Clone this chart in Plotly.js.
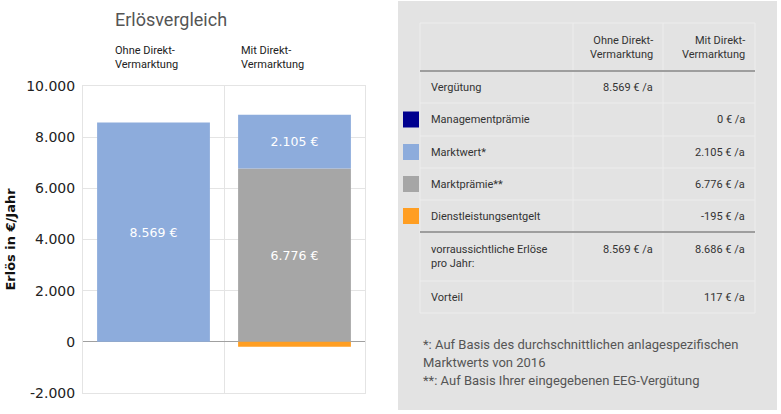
<!DOCTYPE html>
<html><head><meta charset="utf-8">
<script src="https://cdn.plot.ly/plotly-3.0.1.min.js"></script>
<style>html,body{margin:0;padding:0;background:#fff;}#chart{width:781px;height:414px;}</style>
</head><body><div id="chart"></div>
<script>
// ---- data ----
const categories = ["Ohne Direkt-Vermarktung", "Mit Direkt-Vermarktung"];
const categoryLabels = ["Ohne Direkt-<br>Vermarktung", "Mit Direkt-<br>Vermarktung"];
const seriesNames = ["Vergütung", "Managementprämie", "Marktprämie**", "Marktwert*", "Dienstleistungsentgelt"];
const verguetung = [8569, null];
const managementpraemie = [null, 0];
const marktpraemie = [null, 6776];
const marktwert = [null, 2105];
const dienstleistungsentgelt = [null, -195];
const yTicks = [-2000, 0, 2000, 4000, 6000, 8000, 10000];

const tableHeader = ["", "Ohne Direkt-<br>Vermarktung", "Mit Direkt-<br>Vermarktung"];
const tableRows = ["Vergütung", "Managementprämie", "Marktwert*", "Marktprämie**", "Dienstleistungsentgelt", "vorraussichtliche Erlöse<br>pro Jahr:", "Vorteil"];
const tableOhne = [8569, null, null, null, null, 8569, null];
const tableMit = [null, 0, 2105, 6776, -195, 8686, 117];
const footnotes = ["*: Auf Basis des durchschnittlichen anlagespezifischen", "Marktwerts von 2016", "**: Auf Basis Ihrer eingegebenen EEG-Vergütung"];

// ---- styles ----
const C_BLUE = "#8DACDC", C_NAVY = "#00008F", C_GREY = "#A6A6A6", C_ORANGE = "#FF9E22";
const rowSwatch = [null, C_NAVY, C_BLUE, C_GREY, C_ORANGE, null, null];
const W = 781, H = 414;
const px = x => x / W, py = y => 1 - y / H;
function fmt(v) {
  const s = Math.abs(v).toString().replace(/\B(?=(\d{3})+(?!\d))/g, ".");
  return (v < 0 ? "-" : "") + s;
}
const barText = arr => arr.map(v => (v === null || v === 0 || v < 0) ? "" : fmt(v) + " €");

const FONT_DIN = "Roboto, 'Open Sans', sans-serif";
const FONT_V = "'DejaVu Sans', Verdana, sans-serif";

function barTrace(name, y, color) {
  return {
    type: "bar", name: name, x: categories, y: y,
    marker: { color: color, line: { width: 0 } },
    text: barText(y), textposition: "inside", insidetextanchor: "middle",
    textfont: { color: "#fff", size: 12.5, family: FONT_V },
    hoverinfo: "skip", cliponaxis: false
  };
}
const traces = [
  barTrace(seriesNames[0], verguetung, C_BLUE),
  barTrace(seriesNames[1], managementpraemie, C_NAVY),
  barTrace(seriesNames[2], marktpraemie, C_GREY),
  barTrace(seriesNames[3], marktwert, C_BLUE),
  barTrace(seriesNames[4], dienstleistungsentgelt, C_ORANGE)
];

const shapes = [];
const annotations = [];

annotations.push({ xref: "paper", yref: "paper", x: px(113), y: py(20), xanchor: "left", yanchor: "middle",
  text: "Erlösvergleich", showarrow: false, font: { family: FONT_DIN, size: 18, color: "#555" } });
const catLabelX = [113, 239];
categoryLabels.forEach((t, i) => annotations.push({ xref: "paper", yref: "paper", x: px(catLabelX[i]), y: py(58),
  xanchor: "left", yanchor: "middle", align: "left", text: t, showarrow: false,
  font: { family: FONT_DIN, size: 11, color: "#222" } }));

shapes.push({ type: "rect", xref: "paper", yref: "paper", x0: px(398), x1: px(777), y0: py(410), y1: py(1),
  fillcolor: "#E3E3E3", line: { width: 0 }, layer: "below" });

const colX = [420, 573, 663, 755];
const rowY = [23, 71, 103, 136, 168, 200, 232, 281, 313];
const LINE = "#EDEDED";
rowY.forEach(y => {
  if (y === 71 || y === 232) return;
  shapes.push({ type: "line", xref: "paper", yref: "paper", x0: px(colX[0]), x1: px(colX[3]), y0: py(y), y1: py(y), line: { color: LINE, width: 1 } });
});
colX.forEach(x => shapes.push({ type: "line", xref: "paper", yref: "paper", x0: px(x), x1: px(x), y0: py(rowY[0]), y1: py(rowY[rowY.length - 1]), line: { color: LINE, width: 1 } }));
[71, 232].forEach(y => shapes.push({ type: "line", xref: "paper", yref: "paper", x0: px(colX[0]), x1: px(colX[3]), y0: py(y), y1: py(y), line: { color: "#9E9E9E", width: 2 } }));

const TF = { family: FONT_DIN, size: 11, color: "#333" };
[1, 2].forEach(c => annotations.push({ xref: "paper", yref: "paper", x: px(colX[c + 1] - 8), y: py(47), xanchor: "right", yanchor: "middle",
  align: "right", text: tableHeader[c], showarrow: false, font: TF }));
tableRows.forEach((label, r) => {
  const yc = (rowY[r + 1] + rowY[r + 2]) / 2;
  const multi = label.indexOf("<br>") >= 0;
  annotations.push({ xref: "paper", yref: "paper", x: px(colX[0] + 9), y: py(yc), xanchor: "left", yanchor: "middle",
    align: "left", text: label, showarrow: false, font: TF });
  const yv = multi ? yc - 7 : yc;
  if (tableOhne[r] !== null) annotations.push({ xref: "paper", yref: "paper", x: px(colX[2] - 8), y: py(yv), xanchor: "right", yanchor: "middle",
    text: fmt(tableOhne[r]) + " € /a", showarrow: false, font: TF });
  if (tableMit[r] !== null) annotations.push({ xref: "paper", yref: "paper", x: px(colX[3] - 8), y: py(yv), xanchor: "right", yanchor: "middle",
    text: fmt(tableMit[r]) + " € /a", showarrow: false, font: TF });
  if (rowSwatch[r]) shapes.push({ type: "rect", xref: "paper", yref: "paper", x0: px(403), x1: px(419), y0: py(yc + 8), y1: py(yc - 8),
    fillcolor: rowSwatch[r], line: { width: 0 } });
});
const footY = [344, 362, 380];
footnotes.forEach((t, i) => annotations.push({ xref: "paper", yref: "paper", x: px(421), y: py(footY[i]), xanchor: "left", yanchor: "middle",
  text: t, showarrow: false, font: { family: FONT_DIN, size: 13, color: "#555" } }));

const layout = {
  width: W, height: H, margin: { l: 0, r: 0, t: 0, b: 0 },
  paper_bgcolor: "#fff", plot_bgcolor: "#fff",
  barmode: "relative", bargap: 0.2, showlegend: false,
  xaxis: { domain: [px(83), px(365)], type: "category", range: [-0.5, 1.5], showticklabels: false,
    tickson: "boundaries", showgrid: true, gridcolor: "#E4E4E4", ticks: "",
    showline: true, mirror: true, linecolor: "#E4E4E4", linewidth: 1, fixedrange: true },
  yaxis: { domain: [py(393), py(86)], range: [-2000, 10000], tickmode: "array", tickvals: yTicks, ticktext: yTicks.map(fmt),
    showgrid: true, gridcolor: "#E4E4E4", zeroline: true, zerolinecolor: "#A0A0A0", zerolinewidth: 1,
    showline: true, mirror: true, linecolor: "#E4E4E4", ticks: "", ticklabelstandoff: 4,
    tickfont: { family: FONT_V, size: 14, color: "#222" },
    title: { text: "Erlös in €/Jahr", standoff: 7, font: { family: FONT_V, size: 13, color: "#111", weight: "bold" } },
    automargin: false, fixedrange: true },
  shapes: shapes, annotations: annotations
};
Plotly.newPlot("chart", traces, layout, { displayModeBar: false, staticPlot: true });
</script></body></html>
